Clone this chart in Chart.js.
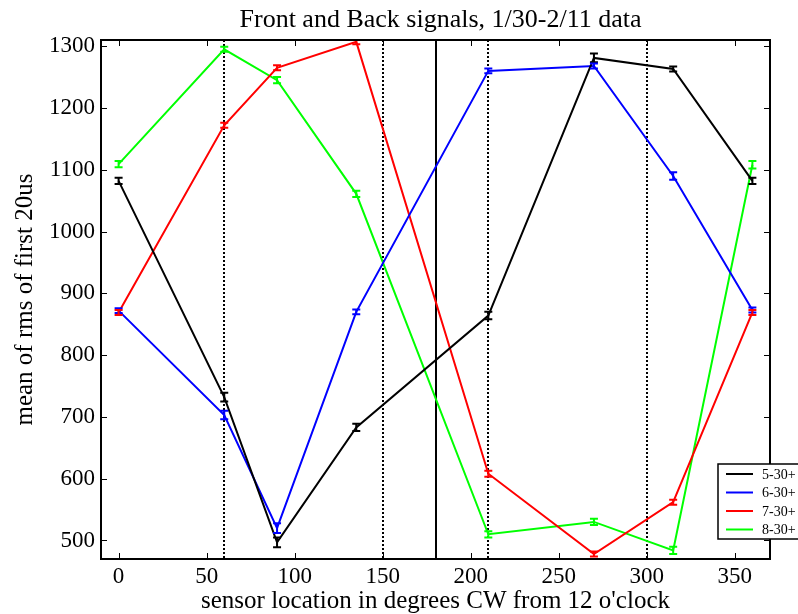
<!DOCTYPE html>
<html><head><meta charset="utf-8">
<script src="https://cdn.jsdelivr.net/npm/chart.js@4/dist/chart.umd.min.js"></script>
<style>html,body{margin:0;padding:0;background:#fff;overflow:hidden}canvas{display:block}</style>
</head><body>
<canvas id="c" width="798" height="614"></canvas>
<script>
// ---- data ----
const angles = [0, 60, 90, 135, 210, 270, 315, 360];
const series5 = [1082, 732, 497, 683, 864, 1281, 1263, 1082];
const series6 = [872, 703, 520, 870, 1260, 1268, 1090, 873];
const series7 = [869, 1172, 1265, 1307, 608, 478, 562, 869];
const series8 = [1109, 1295, 1245, 1061, 510, 530, 484, 1108];
const err5 = [5, 7, 8, 6, 6, 7, 4, 5];
const err6 = [4, 7, 8, 4, 4, 4, 6, 4];
const err7 = [4, 4, 4, 4, 5, 4, 4, 4];
const err8 = [5, 4, 5, 5, 5, 5, 6, 6];
const seriesLabels = ['5-30+', '6-30+', '7-30+', '8-30+'];
const seriesColors = ['#000000', '#0000ff', '#ff0000', '#00ff00'];
const xTicks = [0, 50, 100, 150, 200, 250, 300, 350];
const yTicks = [500, 600, 700, 800, 900, 1000, 1100, 1200, 1300];
const dottedLines = [60, 150, 210, 300];
const solidLines = [180];
const titleText = 'Front and Back signals, 1/30-2/11 data';
const xTitle = "sensor location in degrees CW from 12 o'clock";
const yTitle = 'mean of rms of first 20us';

const FONT = "'Liberation Serif', 'Times New Roman', serif";
const allSeries = [series5, series6, series7, series8];
const allErr = [err5, err6, err7, err8];

const datasets = allSeries.map((s, k) => ({
  label: seriesLabels[k],
  data: angles.map((a, i) => ({x: a, y: s[i]})),
  errors: allErr[k],
  borderColor: seriesColors[k],
  backgroundColor: seriesColors[k],
  borderWidth: 2,
  pointRadius: 0,
  tension: 0,
  fill: false
}));

const decor = {
  id: 'decor',
  beforeDatasetsDraw(chart) {
    const {ctx, chartArea: a, scales: {x}} = chart;
    ctx.save();
    ctx.beginPath(); ctx.rect(a.left, a.top, a.right - a.left, a.bottom - a.top); ctx.clip();
    ctx.strokeStyle = '#000';
    ctx.lineWidth = 2;
    ctx.setLineDash([2, 2]);
    dottedLines.forEach(v => {
      const px = Math.round(x.getPixelForValue(v));
      ctx.beginPath(); ctx.moveTo(px, a.top); ctx.lineTo(px, a.bottom); ctx.stroke();
    });
    ctx.setLineDash([]);
    solidLines.forEach(v => {
      const px = Math.round(x.getPixelForValue(v));
      ctx.beginPath(); ctx.moveTo(px, a.top); ctx.lineTo(px, a.bottom); ctx.stroke();
    });
    ctx.restore();
  },
  afterDatasetsDraw(chart) {
    const {ctx, chartArea: a, scales: {x, y}} = chart;
    ctx.save();
    ctx.beginPath(); ctx.rect(a.left, a.top, a.right - a.left, a.bottom - a.top); ctx.clip();
    chart.data.datasets.forEach(ds => {
      ctx.strokeStyle = ds.borderColor;
      ctx.lineWidth = 2;
      ds.data.forEach((p, i) => {
        const e = ds.errors[i];
        const px = x.getPixelForValue(p.x);
        const y1 = y.getPixelForValue(p.y - e), y2 = y.getPixelForValue(p.y + e);
        ctx.beginPath();
        ctx.moveTo(px, y1); ctx.lineTo(px, y2);
        ctx.moveTo(px - 4, y1); ctx.lineTo(px + 4, y1);
        ctx.moveTo(px - 4, y2); ctx.lineTo(px + 4, y2);
        ctx.stroke();
      });
    });
    ctx.restore();
  },
  afterDraw(chart) {
    const {ctx, chartArea: a, scales: {x, y}} = chart;
    ctx.save();
    // box
    ctx.strokeStyle = '#000';
    ctx.lineWidth = 2;
    ctx.strokeRect(a.left, a.top, a.right - a.left, a.bottom - a.top);
    // inward ticks
    ctx.lineWidth = 1;
    const tl = 6;
    xTicks.forEach(v => {
      const px = Math.round(x.getPixelForValue(v)) + 0.5;
      ctx.beginPath();
      ctx.moveTo(px, a.bottom); ctx.lineTo(px, a.bottom - tl);
      ctx.moveTo(px, a.top); ctx.lineTo(px, a.top + tl);
      ctx.stroke();
    });
    yTicks.forEach(v => {
      const py = Math.round(y.getPixelForValue(v)) + 0.5;
      ctx.beginPath();
      ctx.moveTo(a.left, py); ctx.lineTo(a.left + tl, py);
      ctx.moveTo(a.right, py); ctx.lineTo(a.right - tl, py);
      ctx.stroke();
    });
    // title
    ctx.fillStyle = '#000';
    ctx.font = '26px ' + FONT;
    ctx.textAlign = 'center';
    ctx.textBaseline = 'alphabetic';
    ctx.fillText(titleText, (a.left + a.right) / 2 + 5, 27);
    // legend
    const lx = a.right - 52, ly = a.bottom - 95;
    ctx.fillStyle = '#fff';
    ctx.fillRect(lx, ly, 100, 75);
    ctx.strokeStyle = '#000';
    ctx.lineWidth = 1.5;
    ctx.strokeRect(lx, ly, 100, 75);
    ctx.font = '14px ' + FONT;
    ctx.textAlign = 'left';
    ctx.textBaseline = 'middle';
    seriesLabels.forEach((lab, k) => {
      const ry = ly + 10 + k * 18.5;
      ctx.strokeStyle = seriesColors[k];
      ctx.lineWidth = 2;
      ctx.beginPath(); ctx.moveTo(lx + 8, ry); ctx.lineTo(lx + 35, ry); ctx.stroke();
      ctx.fillStyle = '#000';
      ctx.fillText(lab, lx + 44, ry + 1);
    });
    ctx.restore();
  }
};

new Chart(document.getElementById('c'), {
  type: 'line',
  data: {datasets},
  options: {
    responsive: false,
    animation: false,
    layout: {padding: {top: 40, right: 28, left: 0, bottom: 0}},
    plugins: {legend: {display: false}, title: {display: false}, tooltip: {enabled: false}},
    scales: {
      x: {
        type: 'linear', min: -10, max: 370,
        afterBuildTicks: s => { s.ticks = xTicks.map(v => ({value: v})); },
        afterFit: s => { s.height = 55; },
        grid: {display: false, drawTicks: false},
        border: {display: false},
        ticks: {color: '#000', font: {family: FONT, size: 23}, padding: 4, maxRotation: 0, autoSkip: false,
                callback: v => String(v)},
        title: {display: true, text: xTitle, color: '#000', font: {family: FONT, size: 25, lineHeight: 1}, padding: 0}
      },
      y: {
        type: 'linear', min: 470, max: 1310,
        afterBuildTicks: s => { s.ticks = yTicks.map(v => ({value: v})); },
        afterFit: s => { s.width = 101; },
        grid: {display: false, drawTicks: false},
        border: {display: false},
        ticks: {color: '#000', font: {family: FONT, size: 23}, padding: 6, autoSkip: false,
                callback: v => String(v)},
        title: {display: true, text: yTitle, color: '#000', font: {family: FONT, size: 25, lineHeight: 1}, padding: {top: 13, bottom: 0}}
      }
    }
  },
  plugins: [decor]
});
</script>
</body></html>
